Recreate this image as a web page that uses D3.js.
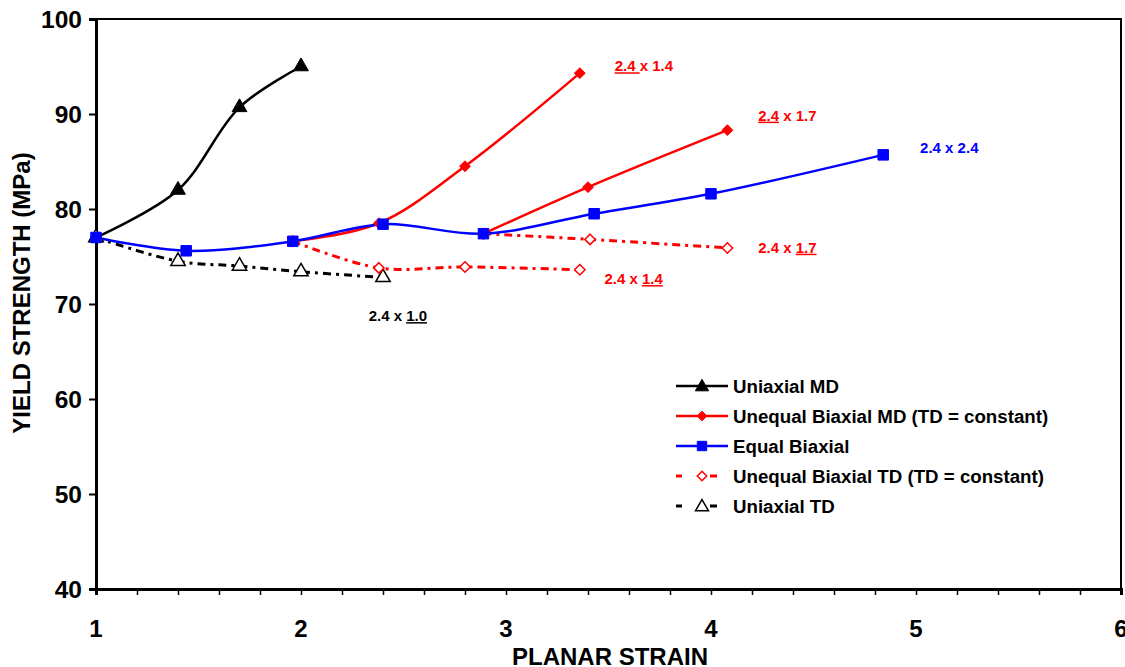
<!DOCTYPE html>
<html>
<head>
<meta charset="utf-8">
<script src="https://cdn.jsdelivr.net/npm/d3@7"></script>
<style>
body { margin: 0; background: #fff; }
text { font-family: Arial, "Liberation Sans", sans-serif; font-weight: bold; }
</style>
</head>
<body>
<svg id="chart" width="1125" height="667"></svg>
<script>
// ======== Data ========
var xTicks = [1, 2, 3, 4, 5, 6];
var yTicks = [40, 50, 60, 70, 80, 90, 100];

var uniaxialMD = [[1, 77], [1.4, 82], [1.7, 90.7], [2, 95]];
var equalBiaxial = [[1, 77], [1.44, 75.6], [1.96, 76.6], [2.4, 78.4], [2.89, 77.4], [3.43, 79.5], [4.0, 81.6], [4.84, 85.7]];
var unequalMD_a = [[1.96, 76.6], [2.38, 78.5], [2.8, 84.5], [3.36, 94.3]];
var unequalMD_b = [[2.89, 77.4], [3.4, 82.3], [4.08, 88.3]];
var unequalTD_a = [[1.96, 76.6], [2.38, 73.8], [2.8, 73.9], [3.36, 73.6]];
var unequalTD_b = [[2.89, 77.4], [3.41, 76.8], [4.08, 75.9]];
var uniaxialTD = [[1, 77], [1.4, 74.5], [1.7, 74.0], [2, 73.4], [2.4, 72.8]];

// label: [x, y (baseline), first part, second part, which part is underlined, colour]
var annotations = [
    [3.53, 94.5, '2.4 ', 'x 1.4', 0, '#ff0000'],
    [4.23, 89.3, '2.4', ' x 1.7', 0, '#ff0000'],
    [5.02, 85.9, '2.4 x 2.4', '', -1, '#0000ff'],
    [4.23, 75.4, '2.4 x ', '1.7', 1, '#ff0000'],
    [3.48, 72.1, '2.4 x ', '1.4', 1, '#ff0000'],
    [2.33, 68.2, '2.4 x ', '1.0', 1, '#000000']
];

var legendNames = ['Uniaxial MD', 'Unequal Biaxial MD (TD = constant)', 'Equal Biaxial',
    'Unequal Biaxial TD (TD = constant)', 'Uniaxial TD'];

// ======== Setup ========
var svg = d3.select('#chart');
var margin = {left: 96, right: 1121, top: 19, bottom: 589};

var x = d3.scaleLinear().domain([1, 6]).range([margin.left, margin.right]);
var y = d3.scaleLinear().domain([40, 100]).range([margin.bottom, margin.top]);

var dashPattern = '8,5,3,5';

var series = [
    {data: uniaxialMD, color: '#000', dash: null, marker: 'triangle', fill: true},
    {data: unequalMD_a, color: '#ff0000', dash: null, marker: 'diamond', fill: true},
    {data: unequalMD_b, color: '#ff0000', dash: null, marker: 'diamond', fill: true},
    {data: uniaxialTD, color: '#000', dash: dashPattern, marker: 'triangle', fill: false},
    {data: unequalTD_a, color: '#ff0000', dash: dashPattern, marker: 'diamond', fill: false},
    {data: unequalTD_b, color: '#ff0000', dash: dashPattern, marker: 'diamond', fill: false},
    {data: equalBiaxial, color: '#0000ff', dash: null, marker: 'square', fill: true}
];

var legendStyle = [
    {color: '#000', dash: null, marker: 'triangle', fill: true},
    {color: '#ff0000', dash: null, marker: 'diamond', fill: true},
    {color: '#0000ff', dash: null, marker: 'square', fill: true},
    {color: '#ff0000', dash: 'dash', marker: 'diamond', fill: false},
    {color: '#000', dash: 'dash', marker: 'triangle', fill: false}
];

function markerPath(kind, filled, scale) {
    scale = scale || 1;
    if (kind == 'triangle') return d3.symbol().type(d3.symbolTriangle).size((filled ? 95 : 90) * scale)();
    if (kind == 'square') return d3.symbol().type(d3.symbolSquare).size(110 * scale)();
    return d3.symbol().type(d3.symbolDiamond2 || d3.symbolDiamond).size((filled ? 75 : 70) * scale)();
}

// ======== Frame & axes ========
svg.append('rect')
    .attr('x', margin.left).attr('y', margin.top)
    .attr('width', margin.right - margin.left)
    .attr('height', margin.bottom - margin.top)
    .attr('fill', 'none').attr('stroke', '#000').attr('stroke-width', 2);

var xAxis = svg.append('g')
    .attr('transform', 'translate(0,' + margin.bottom + ')')
    .call(d3.axisBottom(x).tickValues(d3.range(1, 6.01, 0.2)).tickSize(6).tickFormat(''));
xAxis.select('.domain').attr('stroke-width', 3);
xAxis.selectAll('.tick line').attr('stroke-width', 1.5);

svg.append('g').selectAll('text')
    .data(xTicks).enter().append('text')
    .attr('x', function (d) { return x(d); })
    .attr('y', 637)
    .attr('text-anchor', 'middle')
    .attr('font-size', 24)
    .text(function (d) { return d; });

var yAxis = svg.append('g')
    .attr('transform', 'translate(' + margin.left + ',0)')
    .call(d3.axisLeft(y).tickValues(yTicks).tickSize(7).tickFormat(''));
yAxis.select('.domain').attr('stroke-width', 3);
yAxis.selectAll('.tick line').attr('stroke-width', 2);

svg.append('g').selectAll('text')
    .data(yTicks).enter().append('text')
    .attr('x', 82)
    .attr('y', function (d) { return y(d) + 9; })
    .attr('text-anchor', 'end')
    .attr('font-size', 24.5)
    .text(function (d) { return d; });

svg.append('text')
    .attr('x', 610).attr('y', 665)
    .attr('text-anchor', 'middle')
    .attr('font-size', 24)
    .text('PLANAR STRAIN');

svg.append('text')
    .attr('transform', 'translate(30,293) rotate(-90)')
    .attr('text-anchor', 'middle')
    .attr('font-size', 24)
    .text('YIELD STRENGTH (MPa)');

// ======== Lines & markers ========
var line = d3.line()
    .x(function (d) { return x(d[0]); })
    .y(function (d) { return y(d[1]); })
    .curve(d3.curveCatmullRom.alpha(0.5));

series.forEach(function (s) {
    svg.append('path')
        .datum(s.data)
        .attr('d', line)
        .attr('fill', 'none')
        .attr('stroke', s.color)
        .attr('stroke-width', s.dash ? 3 : 2.5)
        .attr('stroke-dasharray', s.dash);
});

series.forEach(function (s) {
    svg.append('g').selectAll('path')
        .data(s.data).enter().append('path')
        .attr('transform', function (d) { return 'translate(' + x(d[0]) + ',' + y(d[1]) + ')'; })
        .attr('d', markerPath(s.marker, s.fill))
        .attr('fill', s.fill ? s.color : '#fff')
        .attr('stroke', s.color)
        .attr('stroke-width', s.fill ? 1 : 1.5);
});

// ======== Annotations ========
annotations.forEach(function (a) {
    var t = svg.append('text')
        .attr('x', x(a[0])).attr('y', y(a[1]))
        .attr('font-size', 15)
        .attr('fill', a[5]);
    t.append('tspan').text(a[2]).attr('text-decoration', a[4] == 0 ? 'underline' : null);
    t.append('tspan').text(a[3]).attr('text-decoration', a[4] == 1 ? 'underline' : null);
});

// ======== Legend ========
var legend = svg.append('g').attr('transform', 'translate(676,386)');
legendNames.forEach(function (name, i) {
    var st = legendStyle[i];
    var g = legend.append('g').attr('transform', 'translate(0,' + (i * 30) + ')');
    if (st.dash) {
        g.append('line').attr('x1', 0).attr('x2', 6).attr('stroke', st.color).attr('stroke-width', 3);
        g.append('line').attr('x1', 34).attr('x2', 41).attr('stroke', st.color).attr('stroke-width', 3);
    } else {
        g.append('line').attr('x1', 0).attr('x2', 52).attr('stroke', st.color).attr('stroke-width', 2.5);
    }
    g.append('path')
        .attr('transform', 'translate(26,' + (st.marker == 'triangle' ? 1 : 0) + ')')
        .attr('d', markerPath(st.marker, st.fill, 0.8))
        .attr('fill', st.fill ? st.color : '#fff')
        .attr('stroke', st.color)
        .attr('stroke-width', st.fill ? 1 : 1.5);
    g.append('text')
        .attr('x', 57).attr('y', 7)
        .attr('font-size', 18.7)
        .text(name);
});
</script>
</body>
</html>
